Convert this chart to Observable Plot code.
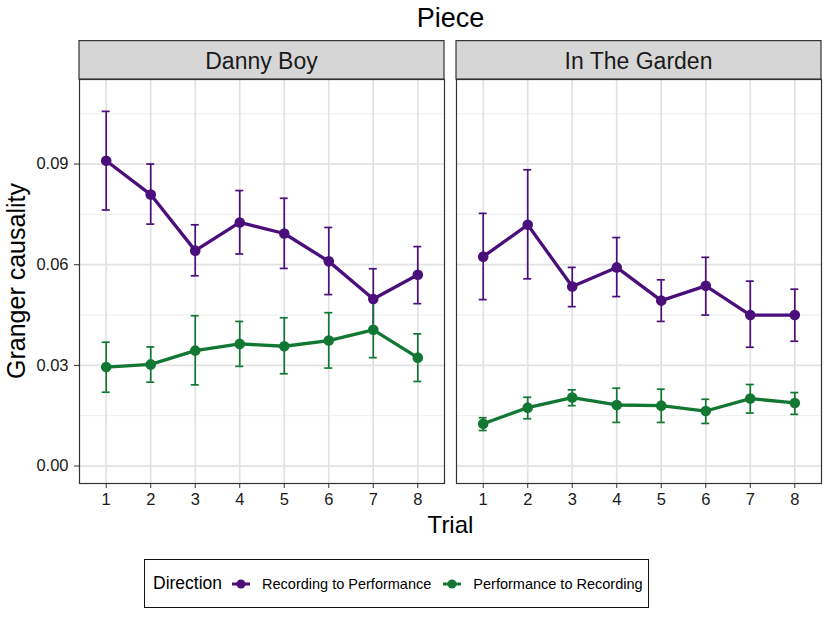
<!DOCTYPE html>
<html>
<head>
<meta charset="utf-8">
<script src="https://cdn.jsdelivr.net/npm/d3@7"></script>
<script src="https://cdn.jsdelivr.net/npm/@observablehq/plot@0.6"></script>
<style>
  html, body { margin: 0; padding: 0; background: #fff; }
  #wrap { position: relative; width: 829px; height: 617px; font-family: "Liberation Sans", Arial, sans-serif; color: #000; overflow: hidden; }
  #title { position: absolute; left: 79px; width: 743px; top: 2px; text-align: center; font-size: 27px; line-height: 32px; }
  #chart { position: absolute; left: 0; top: 40px; }
  #ylab { position: absolute; left: 16px; top: 281px; transform: translate(-50%, -50%) rotate(-90deg); font-size: 25px; white-space: nowrap; line-height: 25px; }
  #xlab { position: absolute; left: 79px; width: 743px; top: 511px; text-align: center; font-size: 24px; line-height: 28px; }
  #legend { position: absolute; left: 144px; top: 559px; width: 503px; height: 47px; border: 1.6px solid #111; display: flex; align-items: center; box-sizing: content-box; white-space: nowrap; }
  #legend .ttl { font-size: 17.5px; margin-left: 8px; margin-right: 9px; }
  #legend .item { display: flex; align-items: center; font-size: 14.5px; margin-right: 11px; white-space: nowrap; flex: none; }
  #legend svg { margin-right: 11px; flex: none; }
</style>
</head>
<body>
<div id="wrap">
  <div id="title">Piece</div>
  <div id="chart"></div>
  <div id="ylab">Granger causality</div>
  <div id="xlab">Trial</div>
  <div id="legend"></div>
</div>
<script>
// ---- data ----
const pieces = ["Danny Boy", "In The Garden"];
const directions = ["Recording to Performance", "Performance to Recording"];
const colors = ["#4b0f7c", "#117733"];
const trials = [1, 2, 3, 4, 5, 6, 7, 8];
const yTicks = [0, 0.03, 0.06, 0.09];
const yMinor = [0.015, 0.045, 0.075, 0.105];

const dbRecMean  = [0.0910, 0.0809, 0.0642, 0.0726, 0.0693, 0.0610, 0.0498, 0.0570];
const dbRecLo    = [0.0763, 0.0721, 0.0567, 0.0632, 0.0589, 0.0511, 0.0406, 0.0484];
const dbRecHi    = [0.1057, 0.0900, 0.0719, 0.0821, 0.0798, 0.0711, 0.0588, 0.0654];
const dbPerfMean = [0.0295, 0.0303, 0.0344, 0.0364, 0.0357, 0.0374, 0.0406, 0.0323];
const dbPerfLo   = [0.0220, 0.0250, 0.0242, 0.0297, 0.0275, 0.0292, 0.0323, 0.0252];
const dbPerfHi   = [0.0369, 0.0355, 0.0448, 0.0431, 0.0442, 0.0457, 0.0498, 0.0394];
const gRecMean   = [0.0624, 0.0719, 0.0535, 0.0592, 0.0493, 0.0537, 0.0450, 0.0450];
const gRecLo     = [0.0496, 0.0558, 0.0475, 0.0505, 0.0431, 0.0450, 0.0354, 0.0372];
const gRecHi     = [0.0753, 0.0883, 0.0592, 0.0681, 0.0555, 0.0622, 0.0551, 0.0527];
const gPerfMean  = [0.0126, 0.0174, 0.0204, 0.0182, 0.0180, 0.0164, 0.0201, 0.0188];
const gPerfLo    = [0.0106, 0.0141, 0.0180, 0.0130, 0.0130, 0.0127, 0.0158, 0.0154];
const gPerfHi    = [0.0144, 0.0205, 0.0227, 0.0232, 0.0229, 0.0199, 0.0243, 0.0219];

// ---- build table ----
const series = [
  [pieces[0], directions[0], dbRecMean, dbRecLo, dbRecHi],
  [pieces[0], directions[1], dbPerfMean, dbPerfLo, dbPerfHi],
  [pieces[1], directions[0], gRecMean, gRecLo, gRecHi],
  [pieces[1], directions[1], gPerfMean, gPerfLo, gPerfHi]
];
const data = [];
for (const [piece, dir, m, lo, hi] of series) {
  trials.forEach((t, i) => data.push({piece, dir, trial: t, mean: m[i], lo: lo[i], hi: hi[i]}));
}
const capHalf = 0.09;

const W = 829, H = 500, mL = 79, mR = 7, mT = 39, mB = 57;
const gap = 12;
const step = (W - mL - mR + gap) / 2;

const chart = Plot.plot({
  width: W, height: H,
  marginLeft: mL, marginRight: mR, marginTop: mT, marginBottom: mB,
  style: {fontFamily: "'Liberation Sans', Arial, sans-serif", fontSize: "16.5px", color: "#1a1a1a", background: "#fff"},
  fx: {domain: pieces, paddingInner: gap / step, paddingOuter: 0, axis: null, label: null},
  x: {domain: [0.4, 8.6], label: null},
  y: {domain: [-0.0052, 0.1152], label: null},
  color: {domain: directions, range: colors},
  marks: [
    Plot.gridY(yMinor, {stroke: "#ececec", strokeOpacity: 1, strokeWidth: 0.9}),
    Plot.gridY(yTicks, {stroke: "#e2e2e2", strokeOpacity: 1, strokeWidth: 1.7}),
    Plot.gridX(trials, {stroke: "#e2e2e2", strokeOpacity: 1, strokeWidth: 1.7}),
    Plot.frame({stroke: "#333", strokeWidth: 1.2}),
    Plot.axisX(trials, {tickSize: 5, tickPadding: 5, tickFormat: d => String(d), label: null, stroke: "#333", fill: "#1a1a1a"}),
    Plot.axisY(yTicks, {tickSize: 5, tickPadding: 6, tickFormat: d3.format(".2f"), label: null, stroke: "#333", fill: "#1a1a1a"}),
    Plot.ruleX(data, {fx: "piece", x: "trial", y1: "lo", y2: "hi", stroke: "dir", strokeWidth: 1.7}),
    Plot.ruleY(data, {fx: "piece", y: "hi", x1: d => d.trial - capHalf, x2: d => d.trial + capHalf, stroke: "dir", strokeWidth: 1.7}),
    Plot.ruleY(data, {fx: "piece", y: "lo", x1: d => d.trial - capHalf, x2: d => d.trial + capHalf, stroke: "dir", strokeWidth: 1.7}),
    Plot.line(data, {fx: "piece", x: "trial", y: "mean", z: "dir", stroke: "dir", strokeWidth: 3.3}),
    Plot.dot(data, {fx: "piece", x: "trial", y: "mean", fill: "dir", r: 5.3})
  ]
});
document.getElementById("chart").appendChild(chart);

// facet strips, positioned from the fx scale
const fx = chart.scale("fx");
const svg = d3.select(chart);
for (const p of pieces) {
  const x0 = fx.apply(p);
  const g = svg.append("g");
  g.append("rect").attr("x", x0).attr("y", 0.6).attr("width", fx.bandwidth).attr("height", mT - 0.6)
    .attr("fill", "#d6d6d6").attr("stroke", "#333").attr("stroke-width", 1.2);
  g.append("text").attr("x", x0 + fx.bandwidth / 2).attr("y", mT / 2 + 1).attr("text-anchor", "middle")
    .attr("dominant-baseline", "central").attr("font-size", 23).attr("fill", "#1a1a1a").text(p);
}

// legend
const leg = d3.select("#legend");
leg.append("span").attr("class", "ttl").text("Direction");
directions.forEach((d, i) => {
  const it = leg.append("span").attr("class", "item");
  const s = it.append("svg").attr("width", 20).attr("height", 14);
  s.append("line").attr("x1", 1).attr("x2", 19).attr("y1", 7).attr("y2", 7).attr("stroke", colors[i]).attr("stroke-width", 3);
  s.append("circle").attr("cx", 10).attr("cy", 7).attr("r", 4.5).attr("fill", colors[i]);
  it.append("span").text(d);
});
</script>
</body>
</html>
